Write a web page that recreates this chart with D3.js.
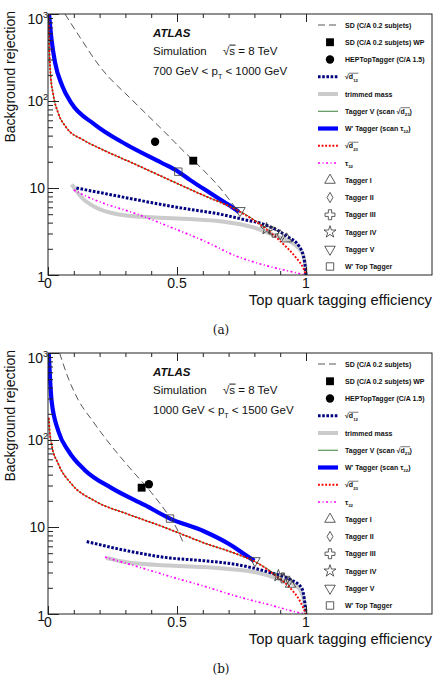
<!DOCTYPE html>
<html lang="en">
<head>
<meta charset="UTF-8">
<title>Top quark tagging</title>
<style>
  body { margin: 0; background: #fff; }
  text { font-family: 'Liberation Sans', Arial, Helvetica, sans-serif; fill: #111; }
</style>
</head>
<body>
<svg id="svg" width="434" height="678"></svg>
<script src="https://d3js.org/d3.v7.min.js"></script>
<script>
// ---- panel (a): 700 < pT < 1000 GeV ----  [efficiency, rejection]
const sdA = [[0.066, 1000], [0.12, 562], [0.2, 251], [0.33, 100], [0.46, 41.7], [0.52, 27.5], [0.59, 17.4], [0.667, 10], [0.705, 7.2], [0.735, 5.5]]
const blueA = [[0.004, 1000], [0.014, 500], [0.027, 280], [0.055, 150], [0.09, 95], [0.18, 54], [0.3, 32], [0.44, 19.5], [0.505, 15.4], [0.55, 12.4], [0.63, 8.7], [0.7, 6.4], [0.74, 5.3]]
const redA = [[0.002, 1000], [0.005, 400], [0.01, 200], [0.02, 120], [0.04, 72], [0.07, 50], [0.137, 35.6], [0.2, 28.6], [0.33, 19.2], [0.46, 12.8], [0.6, 8.3], [0.73, 5.6], [0.85, 3.3], [0.91, 2.3], [0.96, 1.6], [0.99, 1.19], [1.0, 1.0]]
const greenA = [[0.002, 1000], [0.005, 400], [0.01, 200], [0.02, 120], [0.04, 72], [0.07, 50], [0.137, 35.6], [0.2, 28.6], [0.33, 19.2], [0.46, 12.8], [0.6, 8.3], [0.74, 5.5], [0.85, 3.4]]
const navyA = [[0.11, 10], [0.25, 8.3], [0.4, 6.8], [0.53, 5.8], [0.667, 5.0], [0.75, 4.4], [0.85, 3.7], [0.925, 2.8], [0.975, 2.1], [0.995, 1.4], [1.0, 1.0]]
const grayA = [[0.092, 11], [0.11, 9.2], [0.14, 7.3], [0.18, 6.1], [0.27, 5.0], [0.4, 4.6], [0.55, 4.4], [0.667, 4.15], [0.8, 3.5], [0.885, 2.8], [0.95, 2.3], [0.985, 1.8], [0.997, 1.3], [1.0, 1.0]]
const magA = [[0.1, 9.5], [0.15, 8.0], [0.22, 6.6], [0.33, 5.2], [0.47, 3.6], [0.6, 2.5], [0.73, 1.65], [0.86, 1.25], [0.95, 1.08], [1.0, 1.0]]
const pointsA = { sdwp: [0.563, 20.6], hep: [0.415, 34], wtop: [0.505, 15.4], t5: [0.744, 5.5], t4: [0.847, 3.4], t3: [0.875, 3.1], t2: [0.9, 2.9], t1: [0.925, 2.6] }

// ---- panel (b): 1000 < pT < 1500 GeV ----
const sdB = [[0.045, 1000], [0.08, 500], [0.117, 290], [0.17, 170], [0.221, 106], [0.311, 50], [0.4, 25], [0.473, 12.8], [0.5, 9.5], [0.525, 6.5]]
const blueB = [[0.003, 1000], [0.008, 500], [0.014, 280], [0.04, 127], [0.079, 75], [0.143, 45], [0.247, 28], [0.376, 17.8], [0.473, 12.5], [0.602, 9.0], [0.705, 6.3], [0.783, 4.4], [0.8, 4.1]]
const redB = [[0.003, 180], [0.006, 130], [0.014, 89], [0.04, 53], [0.092, 31], [0.182, 19.9], [0.311, 14], [0.44, 10.2], [0.531, 8.0], [0.602, 6.6], [0.731, 4.9], [0.809, 3.9], [0.886, 2.7], [0.938, 2.0], [0.977, 1.4], [1.0, 1.0]]
const greenB = [[0.003, 180], [0.006, 130], [0.014, 89], [0.04, 53], [0.092, 31], [0.182, 19.9], [0.311, 14], [0.44, 10.2], [0.531, 8.0], [0.602, 6.6], [0.731, 4.9], [0.809, 3.9], [0.89, 2.75]]
const navyB = [[0.15, 6.8], [0.311, 5.3], [0.473, 4.4], [0.602, 4.1], [0.731, 3.7], [0.86, 3.0], [0.938, 2.5], [0.983, 2.0], [0.996, 1.3], [1.0, 1.0]]
const grayB = [[0.227, 4.4], [0.311, 3.9], [0.473, 3.6], [0.667, 3.35], [0.809, 3.0], [0.899, 2.5], [0.964, 2.1], [0.99, 1.54], [1.0, 1.0]]
const magB = [[0.221, 4.5], [0.376, 3.3], [0.473, 2.7], [0.602, 2.1], [0.731, 1.6], [0.86, 1.27], [0.977, 1.03], [1.0, 1.0]]
const pointsB = { sdwp: [0.363, 28.3], hep: [0.391, 31], wtop: [0.473, 12.5], t5: [0.802, 4.1], t4: [0.893, 2.75], t3: [0.91, 2.6], t2: [0.935, 2.4], t1: [0.94, 2.2] }

// axes
const xMinor = d3.range(0, 11).map(i => i / 10)
const xMajor = [0, 0.5, 1]
const xLabels = ['0', '0.5', '1']
const yMajor = [1, 10, 100, 1000]
const yMinor = [2, 3, 4, 5, 6, 7, 8, 9, 20, 30, 40, 50, 60, 70, 80, 90, 200, 300, 400, 500, 600, 700, 800, 900]

const svg = d3.select('#svg')

// text with sub/superscripts, optional overline (for the sqrt signs)
function richText(sel, x, y, segs, size, weight) {
  const t = sel.append('text').attr('x', x).attr('y', y)
    .style('font-size', size + 'px').style('font-weight', weight || 'normal')
  let shift = 0, idx = 0, o0 = -1, o1 = -1
  segs.forEach(s => {
    const want = s.sub ? size * 0.35 : (s.sup ? -size * 0.45 : 0)
    t.append('tspan').text(s.t).attr('dy', want - shift)
      .style('font-size', (s.sub || s.sup) ? (size * 0.62) + 'px' : null)
    if (s.over) { if (o0 < 0) o0 = idx; o1 = idx + s.t.length - 1 }
    idx += s.t.length
    shift = want
  })
  if (o0 >= 0) {
    const n = t.node()
    const x0 = n.getStartPositionOfChar(o0).x
    const x1 = n.getEndPositionOfChar(o1).x + 0.5
    sel.append('line').attr('x1', x0).attr('x2', x1)
      .attr('y1', y - size * 0.86).attr('y2', y - size * 0.86)
      .attr('stroke', '#111').attr('stroke-width', size / 12)
  }
  return t
}

const styles = {
  sd: { stroke: '#444', width: 0.9, dash: '7,4' },
  gray: { stroke: '#cbcbcb', width: 4, dash: null },
  mag: { stroke: '#ff00ff', width: 1.7, dash: '2,2.5,1,2.5' },
  navy: { stroke: '#000080', width: 3, dash: '2.6,1.6' },
  green: { stroke: '#207020', width: 0.9, dash: null },
  blue: { stroke: '#0000ff', width: 4.2, dash: null },
  red: { stroke: '#ff0000', width: 1.9, dash: '1.9,1.7' }
}

const markers = {
  sdwp: { type: d3.symbolSquare, size: 62, fill: '#000', rot: 0 },
  hep: { type: d3.symbolCircle, size: 55, fill: '#000', rot: 0 },
  t1: { type: d3.symbolTriangle, size: 48, fill: 'none', rot: 0 },
  t2: { type: d3.symbolDiamond, size: 30, fill: 'none', rot: 0 },
  t3: { type: d3.symbolCross, size: 55, fill: 'none', rot: 0 },
  t4: { type: d3.symbolStar, size: 45, fill: 'none', rot: 0 },
  t5: { type: d3.symbolTriangle, size: 48, fill: 'none', rot: 180 },
  wtop: { type: d3.symbolSquare, size: 55, fill: 'none', rot: 0 }
}

const legendItems = [
  { line: 'sd', label: [{ t: 'SD (C/A 0.2 subjets)' }] },
  { mark: 'sdwp', label: [{ t: 'SD (C/A 0.2 subjets) WP' }] },
  { mark: 'hep', label: [{ t: 'HEPTopTagger (C/A 1.5)' }] },
  { line: 'navy', label: [{ t: '√' }, { t: 'd', over: true }, { t: '12', sub: true, over: true }] },
  { line: 'gray', label: [{ t: 'trimmed mass' }] },
  { line: 'green', label: [{ t: 'Tagger V (scan ' }, { t: '√' }, { t: 'd', over: true }, { t: '23', sub: true, over: true }, { t: ')' }] },
  { line: 'blue', label: [{ t: 'W\' Tagger (scan ' }, { t: 'τ' }, { t: '32', sub: true }, { t: ')' }] },
  { line: 'red', label: [{ t: '√' }, { t: 'd', over: true }, { t: '23', sub: true, over: true }] },
  { line: 'mag', label: [{ t: 'τ' }, { t: '32', sub: true }] },
  { mark: 't1', label: [{ t: 'Tagger I' }] },
  { mark: 't2', label: [{ t: 'Tagger II' }] },
  { mark: 't3', label: [{ t: 'Tagger III' }] },
  { mark: 't4', label: [{ t: 'Tagger IV' }] },
  { mark: 't5', label: [{ t: 'Tagger V' }] },
  { mark: 'wtop', label: [{ t: 'W\' Top Tagger' }] }
]

function drawMarker(g, key, px, py) {
  const m = markers[key]
  g.append('path')
    .attr('d', d3.symbol().type(m.type).size(m.size)())
    .attr('transform', `translate(${px},${py}) rotate(${m.rot})`)
    .attr('fill', m.fill)
    .attr('stroke', m.fill === 'none' ? '#333' : 'none')
    .attr('stroke-width', 0.8)
}

function drawPanel(id, top, series, points, ptRange, tag) {
  const bottom = top + 261
  const x = d3.scaleLinear().domain([0, 1]).range([48, 306])
  const y = d3.scaleLog().domain([1, 1000]).range([bottom, top])
  const g = svg.append('g')

  g.append('clipPath').attr('id', 'clip' + id)
    .append('rect').attr('x', 48).attr('y', top).attr('width', 384).attr('height', bottom - top)

  const line = d3.line().x(d => x(d[0])).y(d => y(d[1])).curve(d3.curveMonotoneX)
  const plot = g.append('g').attr('clip-path', `url(#clip${id})`)

  // order: gray, magenta, navy, blue, green, red, dashed
  ;['gray', 'mag', 'navy', 'blue', 'green', 'red', 'sd'].forEach(k => {
    const s = styles[k]
    plot.append('path')
      .attr('d', line(series[k]))
      .attr('fill', 'none')
      .attr('stroke', s.stroke)
      .attr('stroke-width', s.width)
      .attr('stroke-dasharray', s.dash)
  })

  Object.keys(points).forEach(k => drawMarker(plot, k, x(points[k][0]), y(points[k][1])))

  // frame + ticks
  const axes = g.append('g').attr('stroke', '#222')
  const tick = (sel, a) => { sel.call(a); sel.select('.domain').remove(); sel.selectAll('text').remove(); sel.selectAll('line').attr('stroke', '#222') }
  axes.append('g').attr('transform', `translate(0,${bottom})`).call(tick, d3.axisBottom(x).tickValues(xMinor).tickSize(-4))
  axes.append('g').attr('transform', `translate(0,${bottom})`).call(tick, d3.axisBottom(x).tickValues(xMajor).tickSize(-8))
  axes.append('g').attr('transform', `translate(0,${top})`).call(tick, d3.axisTop(x).tickValues(xMinor).tickSize(-4))
  axes.append('g').attr('transform', `translate(0,${top})`).call(tick, d3.axisTop(x).tickValues(xMajor).tickSize(-8))
  axes.append('g').attr('transform', 'translate(48,0)').call(tick, d3.axisLeft(y).tickValues(yMinor).tickSize(-5))
  axes.append('g').attr('transform', 'translate(48,0)').call(tick, d3.axisLeft(y).tickValues(yMajor).tickSize(-11))
  g.append('rect').attr('x', 48).attr('y', top).attr('width', 384).attr('height', bottom - top)
    .attr('fill', 'none').attr('stroke', '#222').attr('stroke-width', 1)

  // tick labels
  xMajor.forEach((v, i) => {
    g.append('text').attr('x', x(v)).attr('y', bottom + 13).attr('text-anchor', 'middle')
      .style('font-size', '14px').text(xLabels[i])
  })
  yMajor.forEach(v => {
    const e = Math.round(Math.log10(v))
    const yy = y(v) + 5 + (v === 1000 ? 5 : 0)
    if (e === 0) {
      g.append('text').attr('x', 45).attr('y', yy + 2).attr('text-anchor', 'end').style('font-size', '14px').text('1')
    } else if (e === 1) {
      g.append('text').attr('x', 45).attr('y', yy).attr('text-anchor', 'end').style('font-size', '14px').text('10')
    } else {
      const t = g.append('text').attr('x', 48).attr('y', yy).attr('text-anchor', 'end').style('font-size', '14px')
      t.append('tspan').text('10')
      t.append('tspan').attr('dy', -6).style('font-size', '9px').text(e)
    }
  })

  // axis titles
  g.append('text').attr('transform', `translate(15,${top - 3}) rotate(-90)`)
    .attr('text-anchor', 'end').style('font-size', '14px').text('Background rejection')
  g.append('text').attr('x', 432).attr('y', bottom + 30).attr('text-anchor', 'end')
    .style('font-size', '14.8px').text('Top quark tagging efficiency')

  // ATLAS label
  g.append('text').attr('x', 153).attr('y', top + 22.5).style('font-size', '11.5px')
    .style('font-weight', 'bold').style('font-style', 'italic').text('ATLAS')
  g.append('text').attr('x', 153).attr('y', top + 41).style('font-size', '11.5px').text('Simulation')
  richText(g, 223, top + 41, [{ t: '√' }, { t: 's', over: true }, { t: ' = 8 TeV' }], 11.5)
  richText(g, 153, top + 61, [{ t: ptRange[0] + ' GeV < p' }, { t: 'T', sub: true }, { t: ' < ' + ptRange[1] + ' GeV' }], 11.5)

  // legend
  legendItems.forEach((it, i) => {
    const ly = top + 11 + i * 17.25
    if (it.line) {
      const s = styles[it.line]
      g.append('line').attr('x1', 318).attr('x2', 338).attr('y1', ly).attr('y2', ly)
        .attr('stroke', s.stroke).attr('stroke-width', s.width).attr('stroke-dasharray', s.dash)
    } else {
      drawMarker(g, it.mark, 330, ly)
    }
    richText(g, 345, ly + 2.5, it.label, 7, 'bold')
  })

  // sub-figure tag
  svg.append('text').attr('x', 221).attr('y', bottom + 59).attr('text-anchor', 'middle')
    .style('font-family', "'DejaVu Serif', 'Liberation Serif', serif").style('font-size', '12px').text(tag)
}

drawPanel('A', 14, { sd: sdA, blue: blueA, red: redA, green: greenA, navy: navyA, gray: grayA, mag: magA }, pointsA, [700, 1000], '(a)')
drawPanel('B', 353, { sd: sdB, blue: blueB, red: redB, green: greenB, navy: navyB, gray: grayB, mag: magB }, pointsB, [1000, 1500], '(b)')
</script>
</body>
</html>
